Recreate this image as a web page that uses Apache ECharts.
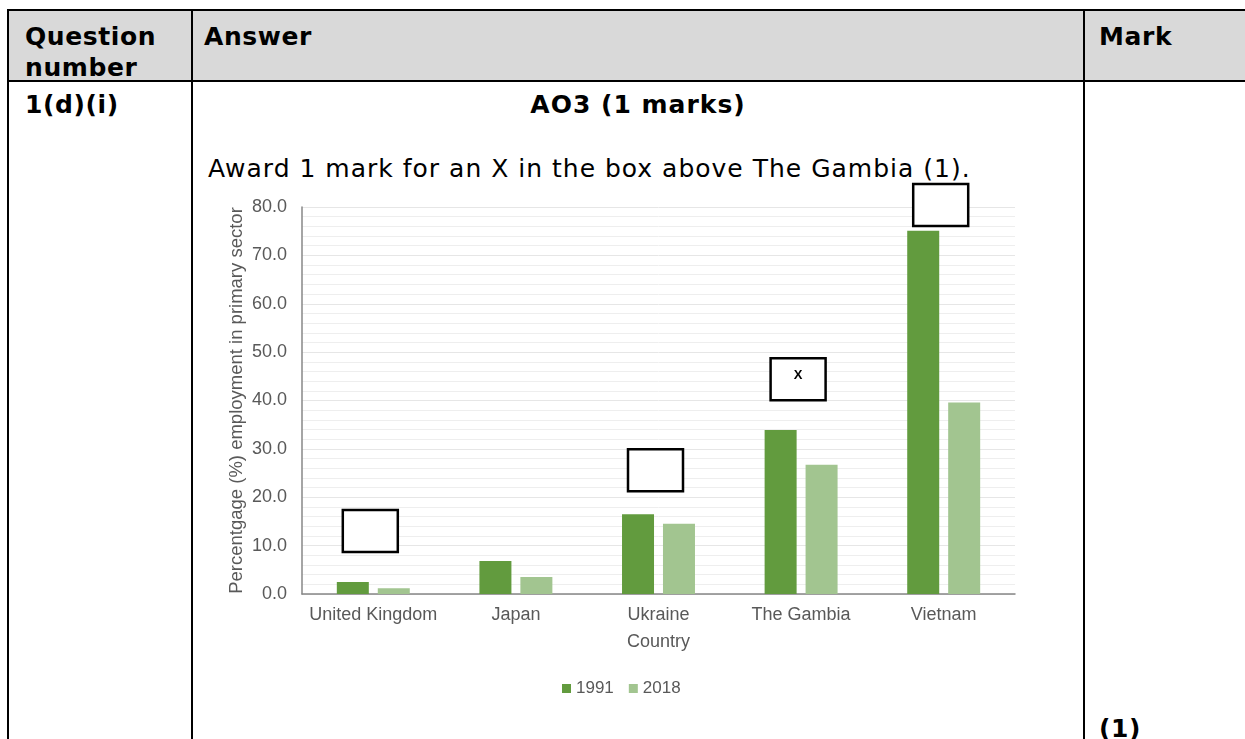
<!DOCTYPE html>
<html>
<head>
<meta charset="utf-8">
<script src="https://cdn.jsdelivr.net/npm/echarts@6/dist/echarts.min.js"></script>
<style>
  body { margin: 0; background: #fff; width: 1245px; height: 739px; overflow: hidden; position: relative; }
  .cell-txt { position: absolute; font-family: "DejaVu Sans", Verdana, sans-serif; font-size: 25px; line-height: 31px; color: #000; letter-spacing: 1px; white-space: nowrap; }
  .bold { font-weight: bold; letter-spacing: 0.6px; }
  .ln { position: absolute; background: #000; }
  #chart { position: absolute; left: 0; top: 0; width: 1245px; height: 739px; }
</style>
</head>
<body>
  <!-- mark scheme table -->
  <div style="position:absolute;left:8px;top:10px;width:1237px;height:71px;background:#d9d9d9;"></div>
  <div class="ln" style="left:8px;top:9px;width:1237px;height:2px;"></div>
  <div class="ln" style="left:8px;top:80px;width:1237px;height:2px;"></div>
  <div class="ln" style="left:7px;top:9px;width:2px;height:730px;"></div>
  <div class="ln" style="left:191px;top:9px;width:2px;height:730px;"></div>
  <div class="ln" style="left:1083px;top:9px;width:2px;height:730px;"></div>

  <div class="cell-txt bold" style="left:25px;top:21px;">Question<br>number</div>
  <div class="cell-txt bold" style="left:204px;top:21px;">Answer</div>
  <div class="cell-txt bold" style="left:1099px;top:21px;">Mark</div>
  <div class="cell-txt bold" style="left:25px;top:89px;">1(d)(i)</div>
  <div class="cell-txt bold" style="left:193px;top:89px;width:890px;text-align:center;letter-spacing:1px;">AO3 (1 marks)</div>
  <div class="cell-txt" style="left:208px;top:153px;">Award 1 mark for an X in the box above The Gambia (1).</div>
  <div class="cell-txt bold" style="left:1099px;top:713px;">(1)</div>

  <div id="chart"></div>

<script>
// chart data
const countries = ["United Kingdom", "Japan", "Ukraine", "The Gambia", "Vietnam"];
const years = ["1991", "2018"];
const values1991 = [2.5, 6.8, 16.5, 33.9, 75.1];
const values2018 = [1.2, 3.5, 14.5, 26.7, 39.6];
// answer boxes drawn above the bars (country, level on the y scale, mark inside)
const boxCountries = ["United Kingdom", "Ukraine", "The Gambia", "Vietnam"];
const boxLevels = [13.0, 25.6, 44.4, 80.4];
const boxMarks = ["", "", "X", ""];

const txtColor = "#595959";
const txtFont = "Liberation Sans, Arial, sans-serif";

let myChart = echarts.init(document.getElementById("chart"), null, { renderer: "canvas" });

let option = {
  backgroundColor: "transparent",
  animation: false,
  textStyle: { fontFamily: txtFont },
  grid: { left: 302, right: 230, top: 207, bottom: 145 },
  legend: {
    data: years,
    left: 557,
    top: 675,
    icon: "rect",
    itemWidth: 9,
    itemHeight: 9,
    itemGap: 15,
    textStyle: { color: txtColor, fontSize: 17, fontFamily: txtFont }
  },
  xAxis: {
    type: "category",
    data: countries,
    name: "Country",
    nameLocation: "middle",
    nameGap: 39,
    nameMoveOverlap: false,
    nameTextStyle: { color: txtColor, fontSize: 18, fontFamily: txtFont },
    axisLine: { lineStyle: { color: "#878787", width: 1.5 } },
    axisTick: { show: false },
    axisLabel: { color: txtColor, fontSize: 18, margin: 12, interval: 0, fontFamily: txtFont },
    splitLine: { show: false }
  },
  yAxis: {
    type: "value",
    min: 0,
    max: 80,
    interval: 10,
    name: "Percentgage (%) employment in primary sector",
    nameLocation: "middle",
    nameGap: 56,
    nameMoveOverlap: false,
    nameTextStyle: { color: txtColor, fontSize: 18.5, fontFamily: txtFont },
    axisLine: { show: true, lineStyle: { color: "#878787", width: 1.5 } },
    axisTick: { show: false },
    axisLabel: {
      color: txtColor,
      fontSize: 18,
      margin: 15,
      fontFamily: txtFont,
      formatter: function (v) { return v.toFixed(1); }
    },
    splitLine: { show: true, lineStyle: { color: "#e6e6e6", width: 1 } },
    minorTick: { show: false, splitNumber: 5 },
    minorSplitLine: { show: true, lineStyle: { color: "#eeeeee", width: 1 } }
  },
  series: [
    {
      name: "1991",
      type: "bar",
      data: values1991,
      barWidth: 32,
      barGap: "28%",
      itemStyle: { color: "#629b3e" }
    },
    {
      name: "2018",
      type: "bar",
      data: values2018,
      barWidth: 32,
      itemStyle: { color: "#a2c590" }
    },
    {
      // the tick boxes
      name: "boxes",
      type: "custom",
      clip: false,
      z: 5,
      data: boxCountries.map(function (c, i) { return [countries.indexOf(c), boxLevels[i]]; }),
      renderItem: function (params, api) {
        let p = api.coord([api.value(0), api.value(1)]);
        let w = 55, h = 42;
        let cx = p[0] - 3;
        return {
          type: "group",
          children: [
            {
              type: "rect",
              shape: { x: cx - w / 2, y: p[1] - h / 2, width: w, height: h },
              style: { fill: "#fff", stroke: "#000", lineWidth: 2.5 }
            },
            {
              type: "text",
              style: {
                text: boxMarks[params.dataIndex],
                x: cx,
                y: p[1] - 4,
                align: "center",
                verticalAlign: "middle",
                font: "bold 13px " + txtFont,
                fill: "#000"
              }
            }
          ]
        };
      }
    }
  ]
};

myChart.setOption(option);
</script>
</body>
</html>
